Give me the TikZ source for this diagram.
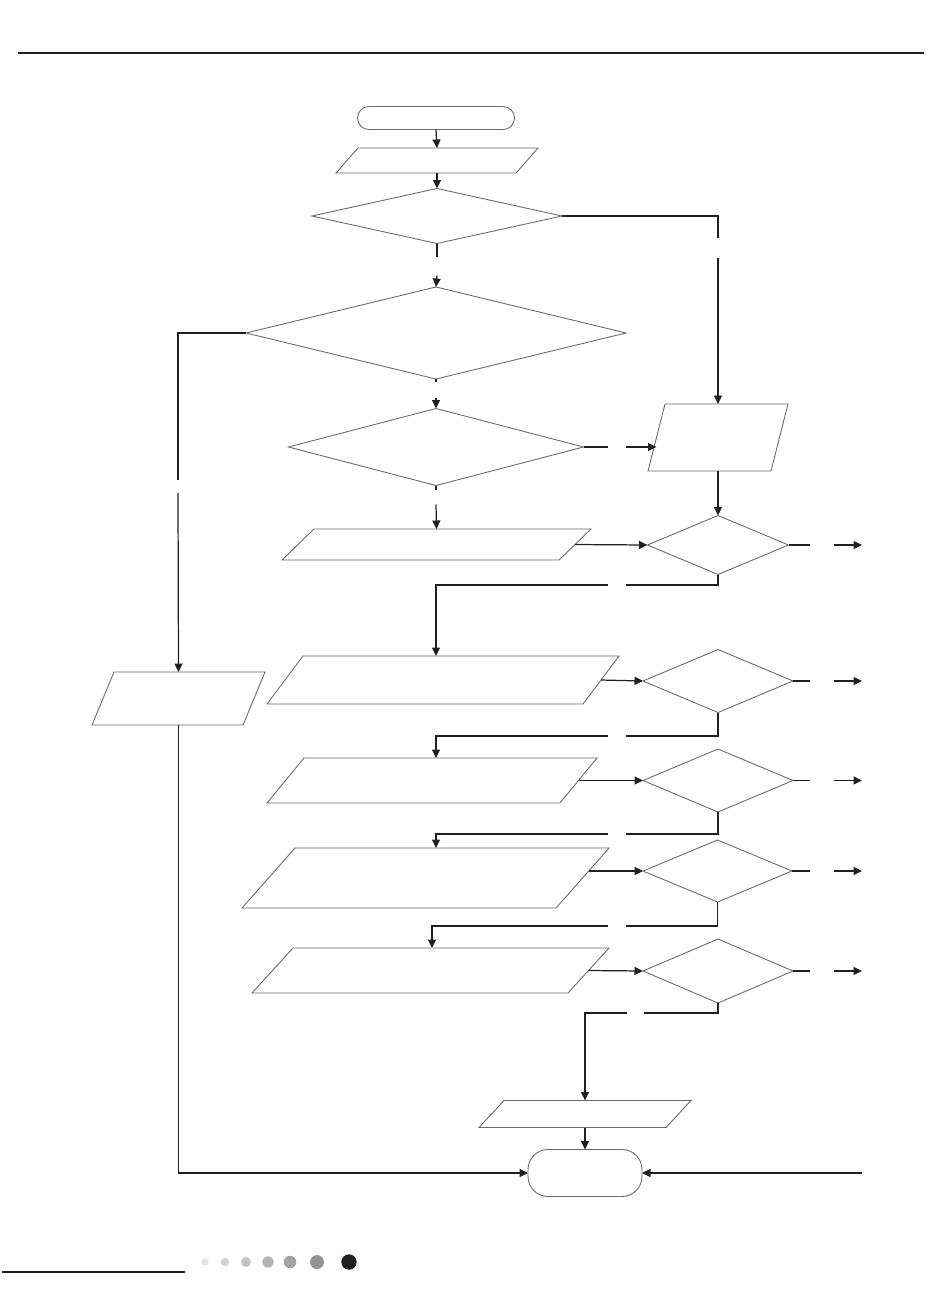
\documentclass[tikz,border=0pt]{standalone}
\usetikzlibrary{arrows.meta,positioning,shapes.geometric,calc}
\definecolor{ink}{RGB}{35,31,32}
\definecolor{rim}{RGB}{105,105,108}
\definecolor{dotA}{RGB}{226,226,228}
\definecolor{dotB}{RGB}{210,211,214}
\definecolor{dotC}{RGB}{194,195,199}
\definecolor{dotD}{RGB}{178,179,184}
\definecolor{dotE}{RGB}{163,164,171}
\definecolor{dotF}{RGB}{146,148,155}
\tikzset{
  >={Triangle[length=1.7mm,width=1.6mm]},
  term/.style={draw=rim,line width=0.5pt,rounded corners=#1,inner sep=0pt,outer sep=0pt},
  io/.style={rectangle,inner sep=0pt,outer sep=0pt},
  frame/.style={draw=rim,line width=0.5pt},
  decision/.style={diamond,draw=rim,line width=0.5pt,inner sep=0pt,outer sep=0pt},
  link/.style={draw=ink,line width=0.7pt},
  rule/.style={draw=ink,line width=#1},
}
% slanted outline round an io node: top edge pushed right, bottom edge left
\newcommand{\ioframe}[2]{%
  \draw[frame] ($(#1.north west)+(#2/2,0)$) -- ($(#1.north east)+(#2/2,0)$)
    -- ($(#1.south east)-(#2/2,0)$) -- ($(#1.south west)-(#2/2,0)$) -- cycle;}

\begin{document}
\begin{tikzpicture}[x=0.2mm,y=-0.2mm]
  \useasboundingbox (0,0) rectangle (950,1296);
  % page rules and dots
  \draw[rule=1.5pt] (18,53) -- (924,53);
  \draw[rule=1.1pt] (2,1272) -- (185,1272);
  \foreach \x/\r/\c in {205/3.7/dotA,225/4.3/dotB,246/5/dotC,268/5.7/dotD,290/6.3/dotE,317/7/dotF,349/7.7/ink}
    \fill[\c] (\x,1262) circle (\r);

  % column of steps
  \node[term=2.3mm,minimum width=31.4mm,minimum height=4.6mm] (start) at (436,118) {};
  \node[io,minimum width=36mm,minimum height=5mm] (p1) at (437,160.5) {};
  \node[decision,minimum width=50mm,minimum height=11mm] (d1) at (437,216) {};
  \node[decision,minimum width=76mm,minimum height=18.4mm] (d2) at (436,333) {};
  \node[decision,minimum width=59mm,minimum height=15.4mm] (d3) at (436,447) {};
  \node[io,minimum width=24.6mm,minimum height=13.4mm] (p2) at (718,437.5) {};
  \node[io,minimum width=55.4mm,minimum height=6.2mm] (pm) at (436.5,544.5) {};
  \node[decision,minimum width=28.2mm,minimum height=11.8mm] (d8) at (718,545) {};
  \node[io,minimum width=30.2mm,minimum height=10.6mm] (pl) at (178.5,698.5) {};
  \node[io,minimum width=63.2mm,minimum height=9.6mm] (p3) at (443,680) {};
  \node[decision,minimum width=30mm,minimum height=12.6mm] (d4) at (718,681) {};
  \node[io,minimum width=58.6mm,minimum height=9mm] (p4) at (432,780.5) {};
  \node[decision,minimum width=30mm,minimum height=12.6mm] (d5) at (718,780.5) {};
  \node[io,minimum width=62.8mm,minimum height=12mm] (p5) at (425.5,878) {};
  \node[decision,minimum width=29.8mm,minimum height=12.4mm] (d6) at (717.5,871) {};
  \node[io,minimum width=63.2mm,minimum height=9mm] (p6) at (430.5,970.5) {};
  \node[decision,minimum width=30mm,minimum height=12.8mm] (d7) at (718,971) {};
  \node[io,minimum width=37.4mm,minimum height=5.4mm] (pf) at (585,1114) {};
  \node[term=4mm,minimum width=22.8mm,minimum height=9.4mm] (end) at (585,1173) {};
  \foreach \n/\s in {p1/22,p2/17,pm/32,pl/22,p3/36,p4/37,p5/53,p6/41,pf/25}
    \ioframe{\n}{\s};

  % connectors
  \coordinate (xa) at (810,0);
  \coordinate (xb) at (834,0);
  \coordinate (xc) at (862,0);
  \coordinate (back) at (862,1173);
  \coordinate (p5-out) at ($(p5.east)+(6,0)$);
  \draw[link,->] (start.south) -- (p1.north);
  \draw[link,->] (p1.south) -- (d1.north);
  \draw[link] (d1.south) -- ++(0,13);
  \draw[link,->] ($(d1.south)+(0,32)$) -- (d2.north);
  \draw[link] (d1.east) -| (718,238);
  \draw[link,->] (718,258) -- (p2.north);
  \draw[link] (d2.west) -| (178,480);
  \draw[link,->] (178,493) -- (pl.north);
  \draw[link] (d2.south) -- ++(0,3);
  \draw[link,->] ($(d2.south)+(0,19)$) -- (d3.north);
  \draw[link] (d3.south) -- ++(0,4);
  \draw[link,->] ($(d3.south)+(0,19)$) -- (pm.north);
  \draw[link] (d3.east) -- (608,447);
  \draw[link,->] (626,447) -- (d3.east -| p2.west);
  \draw[link,->] (p2.south) -- (d8.north);
  \draw[link,->] (pm.east) -- (d8.west);
  \draw[link,->] (p3.east) -- (d4.west);
  \draw[link,->] (p4.east) -- (d5.west);
  \draw[link,->] (p5-out |- d6.west) -- (d6.west);
  \draw[link,->] (p6.east) -- (d7.west);
  \foreach \d/\p/\y/\s in {d8/p3/585/-1.4mm,d4/p4/736/0.8mm,d5/p5/834/2.1mm,d6/p6/926/0.3mm}{
    \draw[link] (\d.south) |- (626,\y);
    \draw[link,->] (608,\y) -| ([xshift=\s]\p.north);
  }
  \foreach \d in {d8,d4,d5,d6,d7}{
    \draw[link] (\d.east) -- (\d.east -| xa);
    \draw[link,->] (\d.east -| xb) -- (\d.east -| xc);
  }
  \draw[link] (d7.south) |- (644,1013);
  \draw[link,->] (627,1013) -| (pf.north);
  \draw[link,->] (pf.south) -- (end.north);
  \draw[link,->] (pl.south) |- (end.west);
  \draw[link,->] (back) -- (end.east);
\end{tikzpicture}
\end{document}
